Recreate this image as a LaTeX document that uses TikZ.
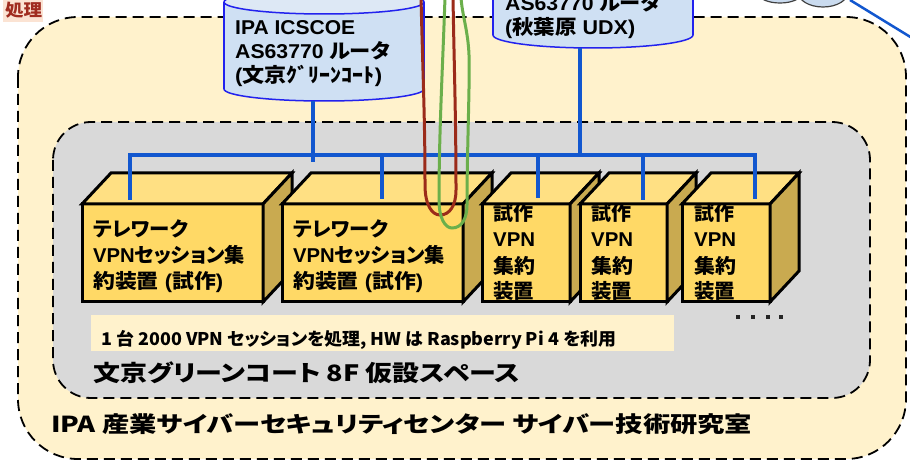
\documentclass[tikz,border=0pt]{standalone}
\usepackage{graphicx}
\usepackage{fontspec}
\setmainfont{Liberation Sans}
\newfontfamily\jp[RawFeature=+palt]{Noto Sans CJK JP}
\newcommand{\J}[1]{{\jp #1}}
\newcommand{\fitw}[2]{\resizebox{#1pt}{\height}{#2}}
\definecolor{outerfill}{HTML}{FFF2CC}
\definecolor{innerfill}{HTML}{D9D9D9}
\definecolor{cylbody}{HTML}{CFE0F3}
\definecolor{cyltopc}{HTML}{DDE8F5}
\definecolor{cylline}{HTML}{2222EE}
\definecolor{boxfrontc}{HTML}{FFD966}
\definecolor{boxtopc}{HTML}{FFE083}
\definecolor{boxsidec}{HTML}{C9AA50}
\definecolor{buscol}{HTML}{1257CF}
\definecolor{loopred}{HTML}{9B2B1A}
\definecolor{loopgreen}{HTML}{6BAF4B}
\definecolor{labred}{HTML}{A02C20}
\definecolor{labbg}{HTML}{FBE3D3}
\definecolor{cloudfill}{HTML}{CADBEF}
\definecolor{notefill}{HTML}{FFF2CC}
\begin{document}
\begin{tikzpicture}[x=1pt,y=-1pt,
  dashedbox/.style={draw=black, line width=1.8pt, dash pattern=on 11pt off 6pt},
  cylfill/.style={fill=cylbody},
  cylstroke/.style={draw=cylline, line width=1.5pt},
  boxfront/.style={draw=black, line width=3pt, fill=boxfrontc, outer sep=0pt, inner sep=0pt, anchor=north west, minimum height=98pt},
  boxtop/.style={draw=black, line width=3pt, fill=boxtopc},
  boxside/.style={draw=black, line width=3pt, fill=boxsidec},
  bus/.style={draw=buscol, line width=4pt},
  txt/.style={anchor=base west, inner sep=0pt, font=\bfseries\fontsize{20}{24}\selectfont},
  loop/.style={line width=3pt, line cap=round},
]
\useasboundingbox (0,0) rectangle (910,462);
\clip (0,0) rectangle (910,462);
\fill[white] (0,0) rectangle (910,462);

% top-left label
\fill[labbg] (3,0) rectangle (43,22);
\node[txt, font=\bfseries\fontsize{17}{20}\selectfont, text=labred] (shori) at (5,17) {\fitw{37}{\J{処理}}};

% cloud and its link
\filldraw[fill=cloudfill, draw=black!75, line width=1.2pt] (780,-6) ellipse[x radius=21, y radius=9];
\filldraw[fill=cloudfill, draw=black!75, line width=1.2pt] (823,-8) ellipse[x radius=25, y radius=15];
\coordinate (cloudlink) at (850,0);
\coordinate (offright) at (912,38);
\draw[buscol, line width=2.5pt] (cloudlink) -- (offright);

% outer area
\path[dashedbox, fill=outerfill, rounded corners=60pt] (18,17) rectangle (906,459);

% cylinder 1
\fill[cylfill] (324,89) ellipse[x radius=100, y radius=12];
\draw[cylstroke] (324,89) ellipse[x radius=100, y radius=12];
\fill[cylfill] (224,2) rectangle (424,89);
\draw[cylstroke] (224,2) -- (224,89) (424,2) -- (424,89);
\filldraw[fill=cyltopc, cylstroke] (324,2) ellipse[x radius=100, y radius=12];
\coordinate (cyl1b) at (313,101);

% cylinder 2
\fill[cylfill] (593,35) ellipse[x radius=100, y radius=13];
\draw[cylstroke] (593,35) ellipse[x radius=100, y radius=13];
\fill[cylfill] (493,-60) rectangle (693,35);
\draw[cylstroke] (493,-60) -- (493,35) (693,-60) -- (693,35);
\coordinate (cyl2b) at (580,48);

% inner area
\path[dashedbox, fill=innerfill, rounded corners=38pt] (53,122) rectangle (870,398);

% boxes
\newcommand{\cuboid}[3]{%
  \node[boxfront, minimum width=#3pt] (#1) at (#2,204) {};
  \filldraw[boxtop] (#1.north west) -- ++(29,-31) -- ([shift={(29,-31)}]#1.north east) -- (#1.north east) -- cycle;
  \filldraw[boxside] (#1.north east) -- ++(29,-31) -- ([shift={(29,-31)}]#1.south east) -- (#1.south east) -- cycle;}
\cuboid{bx1}{82}{181}
\cuboid{bx2}{282}{181}
\cuboid{bx3}{482}{88}
\cuboid{bx4}{580}{87}
\cuboid{bx5}{682}{88}

% blue network
\coordinate (busL) at (130,155);
\coordinate (busR) at (755,155);
\coordinate (d1) at (130,200);
\coordinate (d2) at (382,199);
\coordinate (d3) at (538,198);
\coordinate (d4) at (643,200);
\coordinate (d5) at (755,199);
\coordinate (c1end) at (313,162);
\draw[bus, line join=miter] (d1) -- (busL) -- (busR) -- (d5);
\draw[bus] (d2 |- busL) -- (d2);
\draw[bus] (d3 |- busL) -- (d3);
\draw[bus] (d4 |- busL) -- (d4);
\draw[bus] (cyl2b) -- (cyl2b |- busL);
\draw[bus, line width=3.5pt] (cyl1b) -- (c1end);

% cylinder texts
\node[txt] (c1l1) at (235,35) {\fitw{120}{IPA ICSCOE}};
\node[txt] (c1l2) at (235,59) {\fitw{155}{AS63770 \J{ルータ}}};
\node[txt] (c1l3) at (235,83) {\fitw{147}{(\J{文京ｸﾞﾘｰﾝｺｰﾄ})}};
\node[txt] (c2l1) at (505,11) {\fitw{155}{AS63770 \J{ルータ}}};
\node[txt] (c2l2) at (505,35) {\fitw{130}{(\J{秋葉原} UDX)}};

% box texts
\node[txt] (b1a) at (93,237) {\fitw{95}{\J{テレワーク}}};
\node[txt] (b1b) at (93,262) {\fitw{152}{VPN\J{セッション集}}};
\node[txt] (b1c) at (93,288) {\fitw{130}{\J{約装置} (\J{試作})}};
\node[txt] (b2a) at (293,237) {\fitw{95}{\J{テレワーク}}};
\node[txt] (b2b) at (293,262) {\fitw{152}{VPN\J{セッション集}}};
\node[txt] (b2c) at (293,288) {\fitw{130}{\J{約装置} (\J{試作})}};
\foreach \bx/\xx in {3/493,4/591,5/694}{
  \node[txt] (b\bx a) at (\xx,221) {\fitw{40}{\J{試作}}};
  \node[txt] (b\bx b) at (\xx,247) {\fitw{42}{VPN}};
  \node[txt] (b\bx c) at (\xx,273) {\fitw{42}{\J{集約}}};
  \node[txt] (b\bx d) at (\xx,299) {\fitw{41}{\J{装置}}};
}

% note
\node[fill=notefill, anchor=north west, minimum width=583pt, minimum height=36pt, inner sep=0pt, outer sep=0pt] (note) at (91,315) {};
\node[txt, font=\bfseries\fontsize{17.5}{20}\selectfont] (notetext) at (101,345)
  {\fitw{515}{\J{1 台 2000 VPN セッションを処理, HW は Raspberry Pi 4 を利用}}};

% dots
\foreach \xx [count=\i] in {738,753,768,781}{
  \fill[black!85] (\xx-2,315) rectangle (\xx+2,319);
}

% area labels
\node[txt, font=\bfseries\fontsize{22.5}{26}\selectfont] (innerlab) at (93,381)
  {\fitw{427}{\J{文京グリーンコート 8F 仮設スペース}}};
\node[txt, font=\bfseries\fontsize{22}{26}\selectfont] (outerlab) at (51,432)
  {\fitw{701}{\J{IPA 産業サイバーセキュリティセンター サイバー技術研究室}}};

% loops
\coordinate (rA) at (421,-3);
\coordinate (rB) at (453,-3);
\coordinate (gA) at (445,-3);
\coordinate (gB) at (461,-3);
\draw[loop, loopred] (rA) .. controls (423,80) and (425,120) .. (425,185)
  .. controls (425,205) and (432,215) .. (440,215)
  .. controls (450,215) and (456,205) .. (456,190)
  .. controls (456,120) and (454,60) .. (rB);
\draw[loop, loopgreen] (gA) .. controls (443,60) and (439,130) .. (439,200)
  .. controls (439,218) and (445,228) .. (452,228)
  .. controls (462,228) and (467,218) .. (467,205)
  .. controls (467,150) and (470,80) .. (469,55)
  .. controls (468,30) and (462,15) .. (gB);
\end{tikzpicture}
\end{document}
